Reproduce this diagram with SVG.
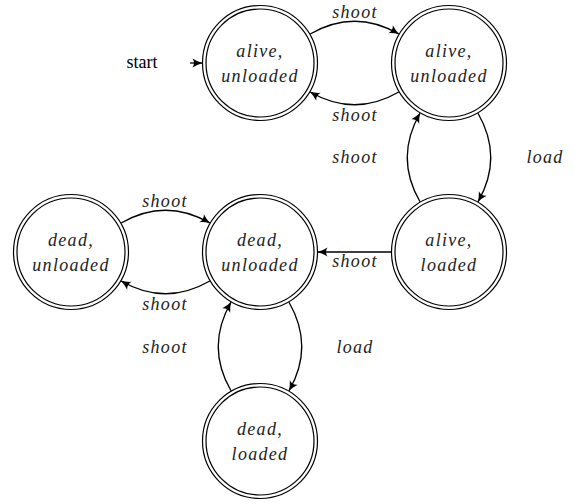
<svg xmlns="http://www.w3.org/2000/svg" width="575" height="504" viewBox="0 0 575 504">
<style>
.ring{fill:none;stroke:#000;stroke-width:1.2}
.nt{font-family:"Liberation Serif","Times New Roman",serif;font-style:italic;font-size:18px;letter-spacing:1.3px;text-anchor:middle;fill:#222}
.lb{font-family:"Liberation Serif","Times New Roman",serif;font-style:italic;font-size:18px;letter-spacing:1.3px;text-anchor:middle;fill:#222}
.st{font-family:"Liberation Serif","Times New Roman",serif;font-size:18px;text-anchor:middle;fill:#000}
.e{fill:none;stroke:#000;stroke-width:1.3;marker-end:url(#ah)}
</style>
<defs>
<marker id="ah" markerUnits="userSpaceOnUse" viewBox="-10 -5 11 10" refX="0" refY="0" markerWidth="11" markerHeight="10" orient="auto">
<path d="M0.5,0 Q-5,-1.5 -9.5,-4.5 Q-6.5,0 -9.5,4.5 Q-5,1.5 0.5,0 Z" fill="#000"/>
</marker>
</defs>
<g id="n1"><circle class="ring" cx="260" cy="63" r="57.5"/><circle class="ring" cx="260" cy="63" r="54"/><text class="nt" x="260" y="57">alive,</text><text class="nt" x="260" y="82">unloaded</text></g>
<g id="n2"><circle class="ring" cx="449" cy="63" r="57.5"/><circle class="ring" cx="449" cy="63" r="54"/><text class="nt" x="449" y="57">alive,</text><text class="nt" x="449" y="82">unloaded</text></g>
<g id="n3"><circle class="ring" cx="449" cy="252" r="57.5"/><circle class="ring" cx="449" cy="252" r="54"/><text class="nt" x="449" y="246">alive,</text><text class="nt" x="449" y="271">loaded</text></g>
<g id="n4"><circle class="ring" cx="260" cy="252" r="57.5"/><circle class="ring" cx="260" cy="252" r="54"/><text class="nt" x="260" y="246">dead,</text><text class="nt" x="260" y="271">unloaded</text></g>
<g id="n5"><circle class="ring" cx="71" cy="252" r="57.5"/><circle class="ring" cx="71" cy="252" r="54"/><text class="nt" x="71" y="246">dead,</text><text class="nt" x="71" y="271">unloaded</text></g>
<g id="n6"><circle class="ring" cx="260" cy="441" r="57.5"/><circle class="ring" cx="260" cy="441" r="54"/><text class="nt" x="260" y="435">dead,</text><text class="nt" x="260" y="460">loaded</text></g>
<g id="connectors">
<text class="st" x="142" y="68">start</text>
<path class="e" d="M190,63 L202,63"/>
<path class="e" d="M310.2,34 C340.2,16.7 368.8,16.7 398.8,34"/>
<path class="e" d="M398.8,92 C368.8,109.3 340.2,109.3 310.2,92"/>
<path class="e" d="M478,113.2 C495.3,143.2 495.3,171.8 478,201.8"/>
<path class="e" d="M420,201.8 C402.7,171.8 402.7,143.2 420,113.2"/>
<path class="e" d="M391,252 L318,252"/>
<path class="e" d="M121.2,223 C151.2,205.7 179.8,205.7 209.8,223"/>
<path class="e" d="M209.8,281 C179.8,298.3 151.2,298.3 121.2,281"/>
<path class="e" d="M289,302.2 C306.3,332.2 306.3,360.8 289,390.8"/>
<path class="e" d="M231,390.8 C213.7,360.8 213.7,332.2 231,302.2"/>
<text class="lb" x="355" y="18">shoot</text>
<text class="lb" x="355" y="121">shoot</text>
<text class="lb" x="355" y="163">shoot</text>
<text class="lb" x="545" y="163">load</text>
<text class="lb" x="355" y="267">shoot</text>
<text class="lb" x="165" y="207">shoot</text>
<text class="lb" x="165" y="310">shoot</text>
<text class="lb" x="165" y="353">shoot</text>
<text class="lb" x="355" y="353">load</text>
</g>
</svg>
